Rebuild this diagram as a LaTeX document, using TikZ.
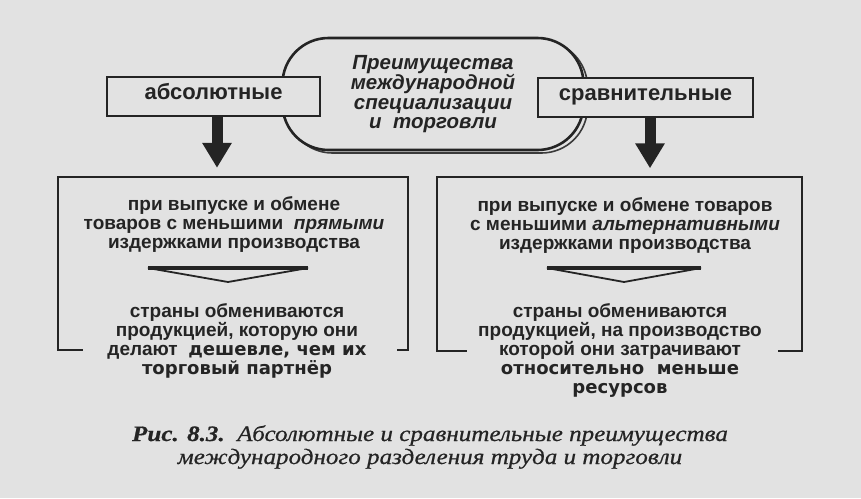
\documentclass[tikz,border=0pt]{standalone}
\usepackage{fontspec}
\setmainfont{Liberation Serif}
\setsansfont{Liberation Sans}
\newfontfamily\heavyfont[Scale=0.95]{DejaVu Sans}
\newfontfamily\capfont[FakeStretch=1.14,FakeBold=0.6]{Liberation Serif}
\usepackage{tikz}
\usetikzlibrary{arrows.meta,positioning}

\definecolor{paper}{RGB}{226,226,226}
\definecolor{ink}{RGB}{36,36,36}

\begin{document}
\begin{tikzpicture}[
            x=1pt, y=-1pt,
            every node/.style={text=ink},
            stadium/.style={draw=ink, line width=2.6pt, fill=paper, rounded corners=46pt,
                minimum width=301pt, minimum height=112pt, align=center,
                font=\sffamily\bfseries\itshape\fontsize{20.5}{19.5}\selectfont},
            label box/.style={draw=ink, line width=2.2pt, fill=paper, minimum height=39pt,
                text height=0.75em, text depth=0.22em,
                font=\sffamily\bfseries\fontsize{22}{24}\selectfont},
            big box/.style={minimum height=173pt},
            box line/.style={draw=ink, line width=2.2pt},
            body text/.style={align=center, font=\sffamily\bfseries\fontsize{19}{19}\selectfont},
            fat arrow/.style={-{Triangle[length=25pt,width=28pt]}, line width=11pt, draw=ink, shorten >=9pt},
            sep mark/.style={draw=ink, line width=1.8pt, fill=paper, line join=miter},
            declare function={
                SepHalf=80;
                SepDrop=14;
            }
        ]
            \useasboundingbox[fill=paper] (0,0) rectangle (861,498);

            \node[stadium, draw=ink!90, fill=none, line width=1.6pt] (shade) at (437,97) {};
            \node[stadium] (centre) at (433,94) {Преимущества\\международной\\специализации\\и\ \ торговли};

            \node[label box, minimum width=213pt] (abs) at (213.5,96.5) {абсолютные};
            \node[label box, minimum width=215pt] (cmp) at (645.5,97.5) {сравнительные};

            \node[big box, minimum width=350pt] (absbox) at (233,263.5) {};
            \node[big box, minimum width=365pt] (cmpbox) at (619.5,264) {};

            \draw[box line] ([xshift=25pt]absbox.south west) -- (absbox.south west) -- (absbox.north west)
                -- (absbox.north east) -- (absbox.south east) -- ([xshift=-11pt]absbox.south east);
            \draw[box line] ([xshift=30pt]cmpbox.south west) -- (cmpbox.south west) -- (cmpbox.north west)
                -- (cmpbox.north east) -- (cmpbox.south east) -- ([xshift=-24pt]cmpbox.south east);

            \draw[fat arrow] ([xshift=3.5pt]abs.south) -- ([xshift=3.5pt]abs.south |- absbox.north);
            \draw[fat arrow] ([xshift=4.5pt]cmp.south) -- ([xshift=4.5pt]cmp.south |- cmpbox.north);

            \node[body text] (absup) at (234,224) {при выпуске и обмене\\товаров с меньшими \ \textit{прямыми}\\издержками производства};
            \node[body text] (cmpup) at (625,225) {при выпуске и обмене товаров\\с меньшими \textit{альтернативными}\\издержками производства};

            \coordinate (abssep) at (228,268);
            \coordinate (cmpsep) at (624,268);
            \draw[sep mark] ([xshift=-SepHalf*1pt]abssep) -- ([xshift=SepHalf*1pt]abssep) -- ([yshift=-SepDrop*1pt]abssep) -- cycle;
            \draw[ink, line width=4pt] ([xshift=-SepHalf*1pt]abssep) -- ([xshift=SepHalf*1pt]abssep);
            \draw[sep mark] ([xshift=-77pt]cmpsep) -- ([xshift=77pt]cmpsep) -- ([yshift=-SepDrop*1pt]cmpsep) -- cycle;
            \draw[ink, line width=4pt] ([xshift=-77pt]cmpsep) -- ([xshift=77pt]cmpsep);

            \node[body text] (abslow) at (237,341) {страны обмениваются\\продукцией, которую они\\делают \ {\heavyfont дешевле, чем их}\\{\heavyfont торговый партнёр}};
            \node[body text] (cmplow) at (620,350) {страны обмениваются\\продукцией, на производство\\которой они затрачивают\\{\heavyfont относительно \ меньше}\\{\heavyfont ресурсов}};

            \node[align=center, font=\capfont\itshape\fontsize{22}{23}\selectfont] (caption) at (430,447)
                {\textbf{Рис. 8.3.}\ \ Абсолютные и сравнительные преимущества\\международного разделения труда и торговли};
        \end{tikzpicture}
\end{document}
